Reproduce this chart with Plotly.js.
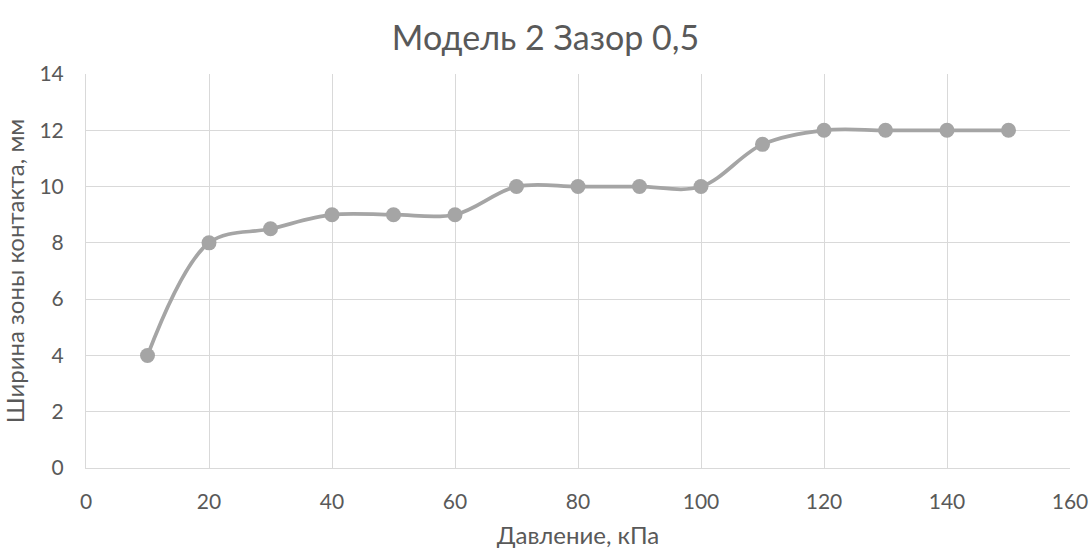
<!DOCTYPE html>
<html>
<head>
<meta charset="utf-8">
<script src="https://cdn.plot.ly/plotly-3.0.1.min.js"></script>
<style>html,body{margin:0;padding:0;background:#fff;}#chart{width:1091px;height:551px;}</style>
</head>
<body>
<div id="chart"></div>
<script>
const pressure = [10, 20, 30, 40, 50, 60, 70, 80, 90, 100, 110, 120, 130, 140, 150];
const width = [4, 8, 8.5, 9, 9, 9, 10, 10, 10, 10, 11.5, 12, 12, 12, 12];
const titleText = 'Модель 2 Зазор 0,5';
const xTitle = 'Давление, кПа';
const yTitle = 'Ширина зоны контакта, мм';

const font = 'Lato, "Open Sans", sans-serif';
const trace = {
  x: pressure, y: width, type: 'scatter', mode: 'lines+markers',
  line: {color: '#A5A5A5', width: 3.75, shape: 'spline', smoothing: 1},
  marker: {color: '#A5A5A5', size: 15},
  hoverinfo: 'x+y'
};
const layout = {
  width: 1091, height: 551,
  margin: {l: 86, r: 21, t: 74, b: 83},
  paper_bgcolor: '#fff', plot_bgcolor: '#fff',
  font: {family: font, color: '#595959', size: 20},
  title: {text: titleText, x: 0.5, xanchor: 'center', y: 0.93, yanchor: 'middle', font: {size: 34, color: '#595959', family: font}},
  showlegend: false,
  xaxis: {
    range: [0, 160], dtick: 20, tick0: 0,
    showgrid: true, gridcolor: '#D9D9D9', gridwidth: 1,
    showline: true, linecolor: '#D9D9D9', linewidth: 1,
    zeroline: false, ticks: '', ticklen: 0, ticklabelstandoff: 15,
    tickfont: {size: 21, color: '#595959'},
    title: {text: xTitle, font: {size: 24, color: '#595959'}, standoff: 14}
  },
  yaxis: {
    range: [0, 14], dtick: 2, tick0: 0,
    showgrid: true, gridcolor: '#D9D9D9', gridwidth: 1,
    showline: true, linecolor: '#D9D9D9', linewidth: 1,
    zeroline: false, ticks: '', ticklen: 0, ticklabelstandoff: 17,
    tickfont: {size: 21, color: '#595959'},
    title: {text: yTitle, font: {size: 24, color: '#595959'}, standoff: 16}
  }
};
Plotly.newPlot('chart', [trace], layout, {displayModeBar: false, staticPlot: true});
</script>
</body>
</html>
